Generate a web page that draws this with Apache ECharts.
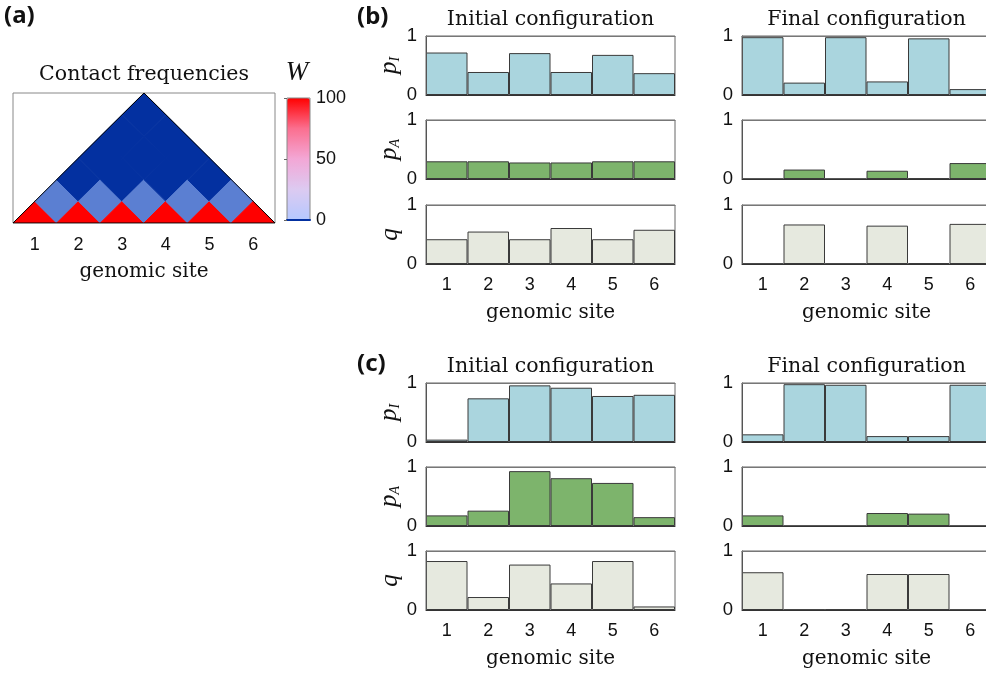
<!DOCTYPE html>
<html style="height: 100%">
   <head>
       <meta charset="utf-8">
   </head>
   <body style="height: 100%; margin: 0; background: #fff">
       <div id="container" style="width: 986px; height: 673px"></div>
       <script type="text/javascript" src="https://cdn.jsdelivr.net/npm/echarts@6/dist/echarts.min.js"></script>
       <script type="text/javascript">
// genomic sites
var sites = ['1', '2', '3', '4', '5', '6'];

// contact frequencies W (upper triangle used)
var contactW = [
    [100, 20, 0, 0, 0, 0],
    [20, 100, 20, 0, 0, 0],
    [0, 20, 100, 20, 0, 0],
    [0, 0, 20, 100, 20, 0],
    [0, 0, 0, 20, 100, 20],
    [0, 0, 0, 0, 20, 100]
];

// (b)
var bInitPI = [0.72, 0.39, 0.71, 0.39, 0.68, 0.37];
var bInitPA = [0.30, 0.30, 0.28, 0.28, 0.30, 0.30];
var bInitQ  = [0.42, 0.55, 0.42, 0.61, 0.42, 0.58];
var bFinPI  = [0.98, 0.21, 0.98, 0.23, 0.96, 0.10];
var bFinPA  = [0, 0.16, 0, 0.14, 0.01, 0.27];
var bFinQ   = [0.005, 0.67, 0.005, 0.65, 0.015, 0.68];
// (c)
var cInitPI = [0.04, 0.74, 0.96, 0.92, 0.78, 0.80];
var cInitPA = [0.18, 0.26, 0.93, 0.81, 0.73, 0.15];
var cInitQ  = [0.83, 0.22, 0.77, 0.45, 0.83, 0.06];
var cFinPI  = [0.13, 0.98, 0.97, 0.10, 0.10, 0.97];
var cFinPA  = [0.18, 0, 0, 0.22, 0.21, 0];
var cFinQ   = [0.64, 0.005, 0.01, 0.61, 0.61, 0.004];

var serif = 'DejaVu Serif';
var serifIt = 'Liberation Serif';
var sans = 'Liberation Sans';
var barColors = ['#aad5de', '#7db46c', '#e6e9df'];
var edge = '#3a3a3a';

function heatColor(v) {
    if (v >= 100) return '#ff0000';
    if (v > 0) return '#5b7fd2';
    return '#0330a0';
}

var dom = document.getElementById('container');
var myChart = echarts.init(dom);

var grids = [], xAxes = [], yAxes = [], series = [], graphics = [];

// ---- panel (a): rotated contact map ----
grids.push({left: 13, top: 93, width: 262, height: 130, show: true, borderColor: '#888', borderWidth: 1, outerBoundsMode: 'none'});
xAxes.push({type: 'value', gridIndex: 0, min: 0.5, max: 6.5, show: false});
yAxes.push({type: 'value', gridIndex: 0, min: 0, max: 3, show: false});
xAxes.push({
    type: 'category', gridIndex: 0, data: sites, position: 'bottom',
    axisLine: {show: false}, axisTick: {show: false},
    axisLabel: {fontSize: 18, fontFamily: sans, color: '#111', margin: 13},
    name: 'genomic site', nameLocation: 'middle', nameGap: 39,
    nameTextStyle: {fontSize: 20, fontFamily: serif, color: '#111'}
});
xAxes.push({
    type: 'category', gridIndex: 0, data: sites, position: 'top',
    axisLine: {show: false}, axisLabel: {show: false},
    axisTick: {inside: true, alignWithLabel: true, length: 4, lineStyle: {color: '#888'}}
});

var heatData = [];
for (var i = 0; i < contactW.length; i++) {
    for (var j = i; j < contactW.length; j++) {
        heatData.push([i + 1, j + 1, contactW[i][j]]);
    }
}
series.push({
    type: 'custom', xAxisIndex: 0, yAxisIndex: 0, clip: true,
    data: heatData,
    renderItem: function (params, api) {
        var a = api.value(0), b = api.value(1), v = api.value(2);
        var cx = (a + b) / 2, cy = (b - a) / 2;
        var pts = [
            api.coord([cx - 0.5, cy]),
            api.coord([cx, cy + 0.5]),
            api.coord([cx + 0.5, cy]),
            api.coord([cx, cy - 0.5])
        ];
        return {
            type: 'polygon',
            shape: {points: pts},
            style: {fill: heatColor(v), stroke: heatColor(v), lineWidth: 1}
        };
    }
});
var n = sites.length;
series.push({
    type: 'line', xAxisIndex: 0, yAxisIndex: 0, symbol: 'none', silent: true,
    data: [[0.5, 0], [0.5 + n / 2, n / 2], [n + 0.5, 0], [0.5, 0]],
    lineStyle: {color: '#000', width: 1}
});
// empty series that only carries the colorbar scale
series.push({type: 'scatter', xAxisIndex: 0, yAxisIndex: 0, data: []});
var colorbarSeries = series.length - 1;

// colorbar axis
grids.push({left: 287, top: 98, width: 23, height: 122, show: true, borderColor: '#888', borderWidth: 1, z: 10, outerBoundsMode: 'none'});
xAxes.push({type: 'value', gridIndex: 1, min: 0, max: 1, axisLabel: {show: false}, axisTick: {show: false}, splitLine: {show: false},
    axisLine: {show: true, lineStyle: {color: '#0330a0', width: 2}}, z: 10});
yAxes.push({type: 'value', gridIndex: 1, position: 'right', min: 0, max: 100, interval: 50,
    axisLine: {show: false}, splitLine: {show: false},
    axisTick: {inside: true, length: 3, lineStyle: {color: '#666'}},
    axisLabel: {fontSize: 18, fontFamily: sans, color: '#111', margin: 6}, z: 10});

graphics.push({type: 'text', x: 297, y: 73, style: {text: 'W', fontSize: 27, fontFamily: serifIt, fontStyle: 'italic', fill: '#111', align: 'center', verticalAlign: 'middle'}});
graphics.push({type: 'text', x: 144, y: 75, style: {text: 'Contact frequencies', fontSize: 20.5, fontFamily: serif, fill: '#111', align: 'center', verticalAlign: 'middle'}});

// ---- panels (b) and (c) ----
var panels = [
    [[bInitPI, bInitPA, bInitQ], [bFinPI, bFinPA, bFinQ]],
    [[cInitPI, cInitPA, cInitQ], [cFinPI, cFinPA, cFinQ]]
];
var colLeft = [426, 742];
var rowTops = [[36, 120, 205], [383, 467, 551]];
var titleY = [20, 367];
var colTitles = ['Initial configuration', 'Final configuration'];
var yNames = ['{p|p}{s|I}', '{p|p}{s|A}', '{p|q}'];

for (var p = 0; p < 2; p++) {
    graphics.push({type: 'text', x: 357, y: titleY[p] - 3, style: {text: p === 0 ? '(b)' : '(c)', fontSize: 24, fontWeight: 'bold', fontFamily: 'Noto Sans', fill: '#111', align: 'left', verticalAlign: 'middle'}});
    for (var c = 0; c < 2; c++) {
        graphics.push({type: 'text', x: colLeft[c] + 124.5, y: titleY[p], style: {text: colTitles[c], fontSize: 20.5, fontFamily: serif, fill: '#111', align: 'center', verticalAlign: 'middle'}});
        for (var r = 0; r < 3; r++) {
            var g = grids.length;
            var last = r === 2;
            grids.push({left: colLeft[c], top: rowTops[p][r], width: 249, height: 59, show: true, borderColor: '#666', borderWidth: 1, outerBoundsMode: 'none'});
            var xb = xAxes.length;
            xAxes.push({
                type: 'category', gridIndex: g, data: sites, position: 'bottom', z: 5,
                axisLine: {show: true, lineStyle: {color: '#333'}},
                axisTick: {inside: true, alignWithLabel: true, length: 3, lineStyle: {color: '#444'}},
                axisLabel: {show: last, fontSize: 18, fontFamily: sans, color: '#111', margin: 12},
                name: last ? 'genomic site' : '', nameLocation: 'middle', nameGap: 39,
                nameTextStyle: {fontSize: 20, fontFamily: serif, color: '#111'}
            });
            xAxes.push({
                type: 'category', gridIndex: g, data: sites, position: 'top', z: 5,
                axisLine: {show: true, lineStyle: {color: '#777'}},
                axisTick: {inside: true, alignWithLabel: true, length: 3, lineStyle: {color: '#555'}},
                axisLabel: {show: false}
            });
            var yi = yAxes.length;
            yAxes.push({
                type: 'value', gridIndex: g, min: 0, max: 1, interval: 1, z: 5,
                axisLine: {show: true, lineStyle: {color: '#555'}},
                axisTick: {show: false}, splitLine: {show: false},
                axisLabel: {fontSize: 18.5, fontFamily: sans, color: '#111', margin: 9},
                name: c === 0 ? yNames[r] : '', nameLocation: 'middle', nameRotate: 90, nameGap: 21,
                nameTextStyle: {
                    rich: {
                        p: {fontSize: 25, fontFamily: serifIt, fontStyle: 'italic', color: '#111', lineHeight: 26, verticalAlign: 'middle'},
                        s: {fontSize: 14, fontFamily: serifIt, fontStyle: 'italic', color: '#111', lineHeight: 26, verticalAlign: 'bottom'}
                    }
                }
            });
            series.push({
                type: 'bar', xAxisIndex: xb, yAxisIndex: yi, barWidth: '100%',
                data: panels[p][c][r], silent: true,
                itemStyle: {color: barColors[r], borderColor: edge, borderWidth: 1}
            });
        }
    }
}

graphics.push({type: 'text', x: 4, y: 16, style: {text: '(a)', fontSize: 24, fontWeight: 'bold', fontFamily: 'Noto Sans', fill: '#111', align: 'left', verticalAlign: 'middle'}});

var option = {
    backgroundColor: '#fff',
    animation: false,
    grid: grids,
    xAxis: xAxes,
    yAxis: yAxes,
    visualMap: {
        type: 'continuous', min: 0, max: 100, seriesIndex: colorbarSeries,
        left: 287, top: 98, itemWidth: 23, itemHeight: 122, padding: 0,
        calculable: false, text: null, showLabel: false,
        inRange: {color: ['#b5c9ff', '#dccaf1', '#f3a7d6', '#fb6f8f', '#ff0000']}
    },
    graphic: graphics,
    series: series
};
myChart.setOption(option);
       </script>
   </body>
</html>
